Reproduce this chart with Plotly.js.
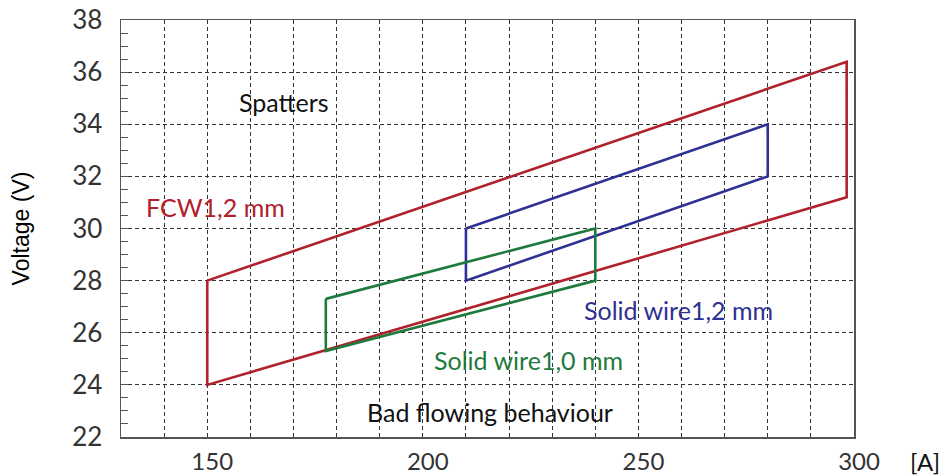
<!DOCTYPE html>
<html>
<head>
<meta charset="utf-8">
<script src="https://cdn.plot.ly/plotly-3.0.1.min.js"></script>
<style>html,body{margin:0;padding:0;background:#fff;}#chart{width:946px;height:476px;}</style>
</head>
<body>
<div id="chart"></div>
<script>
// Process windows (current [A] vs voltage [V]), closed polygons
const fcwCurrent = [150, 298.3, 298.3, 150, 150];
const fcwVoltage = [28, 36.4, 31.2, 24, 28];
const solid12Current = [210, 280, 280, 210, 210];
const solid12Voltage = [30, 34, 32, 28, 30];
const solid10Current = [177.5, 240, 240, 177.5, 177.5];
const solid10Voltage = [27.3, 30, 28, 25.3, 27.3];

const xTickVals = [150, 200, 250, 300];
const xTickText = ['150', '200', '250', '300'];

const labelTexts = ['Spatters', 'FCW1,2 mm', 'Solid wire1,2 mm', 'Solid wire1,0 mm', 'Bad flowing behaviour'];
const labelX = [167.8, 152.0, 259.4, 224.6, 215.6];
const labelY = [34.86, 30.84, 26.87, 24.95, 22.97];
const labelColors = ['#111111', '#b0212b', '#2e3192', '#1e7a3c', '#111111'];

const RED = '#b0212b', BLUE = '#2e3192', GREEN = '#1e7a3c';
const FONT = 'Lato, "Open Sans", sans-serif';

const traces = [
  {x: fcwCurrent, y: fcwVoltage, mode: 'lines', line: {color: RED, width: 2.6}, hoverinfo: 'skip'},
  {x: solid12Current, y: solid12Voltage, mode: 'lines', line: {color: BLUE, width: 2.6}, hoverinfo: 'skip'},
  {x: solid10Current, y: solid10Voltage, mode: 'lines', line: {color: GREEN, width: 2.6}, hoverinfo: 'skip'}
];

const annotations = labelTexts.map((t, i) => ({
  x: labelX[i], y: labelY[i], xref: 'x', yref: 'y', text: t, showarrow: false,
  font: {family: FONT, size: 25, color: labelColors[i]},
  xanchor: 'center', yanchor: 'middle'
}));
annotations.push({
  x: (925 - 121) / (946 - 121 - 92), y: -(461 - 437) / (437 - 20),
  xref: 'paper', yref: 'paper', text: '[A]', showarrow: false,
  font: {family: FONT, size: 24, color: '#111111'},
  xanchor: 'center', yanchor: 'middle'
});

const layout = {
  width: 946, height: 476,
  margin: {l: 121, r: 92, t: 20, b: 39},
  paper_bgcolor: '#ffffff', plot_bgcolor: '#ffffff',
  showlegend: false,
  xaxis: {
    range: [130, 300], tickmode: 'array', tickvals: xTickVals, ticktext: xTickText,
    showgrid: true, gridcolor: '#333333', gridwidth: 1, griddash: '4px,3px',
    minor: {dtick: 10, tick0: 130, showgrid: true, gridcolor: '#333333', gridwidth: 1, griddash: '4px,3px', ticks: ''},
    ticks: '', showline: true, linecolor: '#555555', linewidth: 1.5, mirror: true,
    zeroline: false,
    tickfont: {family: FONT, size: 24, color: '#333333'},
    ticklabelstandoff: 3, ticklabelshift: 5,
    automargin: false,
    fixedrange: true
  },
  yaxis: {
    range: [22, 38], dtick: 2, tick0: 22,
    showgrid: true, gridcolor: '#333333', gridwidth: 1, griddash: '4px,3px',
    ticks: 'inside', ticklen: 7, tickcolor: '#555555', tickwidth: 1,
    minor: {dtick: 0.5, ticks: 'inside', ticklen: 7, tickcolor: '#555555', tickwidth: 1, showgrid: false},
    showline: true, linecolor: '#555555', linewidth: 1.5, mirror: true,
    zeroline: false,
    tickfont: {family: FONT, size: 26, color: '#333333'},
    ticklabelstandoff: 12,
    title: {text: 'Voltage (V)', font: {family: '"Liberation Sans", Arial, sans-serif', size: 23, color: '#000000'}, standoff: 36},
    automargin: false,
    fixedrange: true
  },
  annotations: annotations
};

Plotly.newPlot('chart', traces, layout, {displayModeBar: false, staticPlot: true});
</script>
</body>
</html>
